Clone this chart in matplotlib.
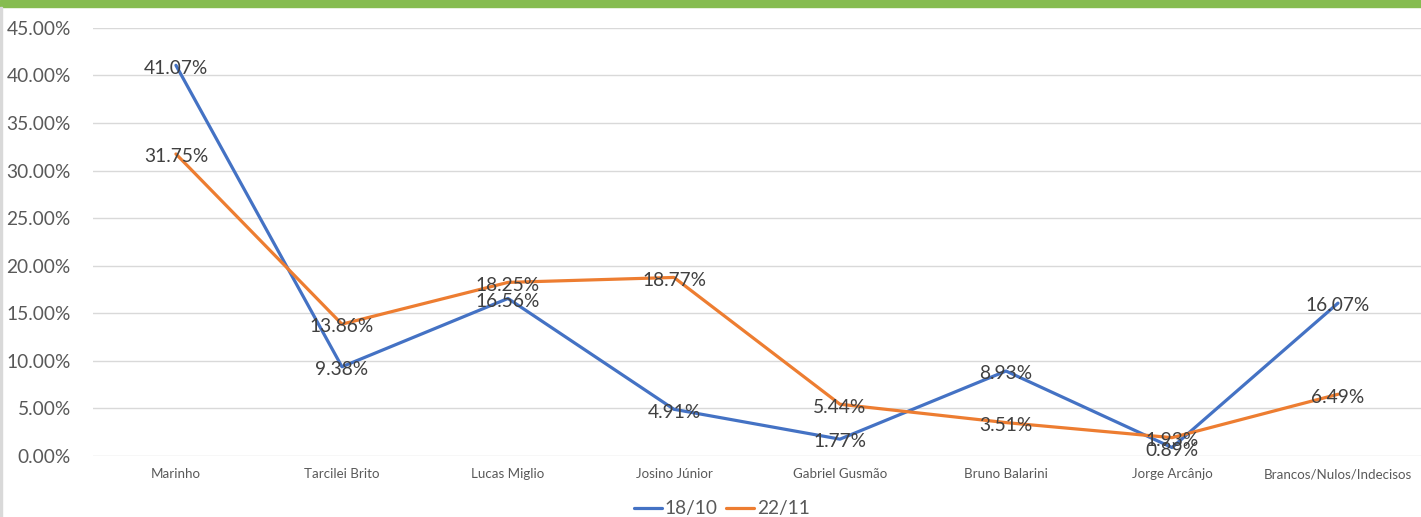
import matplotlib.pyplot as plt
from matplotlib.patches import Rectangle
from matplotlib.ticker import FuncFormatter

plt.rcParams['font.family'] = ['Lato', 'DejaVu Sans']

# dados
candidatos = ['Marinho', 'Tarcilei Brito', 'Lucas Miglio', 'Josino Júnior',
              'Gabriel Gusmão', 'Bruno Balarini', 'Jorge Arcânjo',
              'Brancos/Nulos/Indecisos']
serie_1810 = [41.07, 9.38, 16.56, 4.91, 1.77, 8.93, 0.89, 16.07]
serie_2211 = [31.75, 13.86, 18.25, 18.77, 5.44, 3.51, 1.93, 6.49]
nomes = ['18/10', '22/11']
cores = ['#4472C4', '#ED7D31']

fig = plt.figure(figsize=(14.21, 5.17), dpi=100)
ax = fig.add_axes([0.0654, 0.118, 0.9346, 0.828])

x = range(len(candidatos))
for vals, nome, cor in zip([serie_1810, serie_2211], nomes, cores):
    ax.plot(x, [v / 100 for v in vals], color=cor, lw=2.3, label=nome,
            solid_joinstyle='round', solid_capstyle='round')

for vals in [serie_1810, serie_2211]:
    for i, v in enumerate(vals):
        ax.annotate(f'{v:.2f}%', (i, v / 100), xytext=(0, -2),
                    textcoords='offset points', ha='center', va='center',
                    fontsize=13.8, color='#404040', zorder=5)

ax.set_xlim(-0.5, len(candidatos) - 0.5)
ax.set_ylim(0, 0.45)
ax.set_yticks([i * 0.05 for i in range(10)])
ax.yaxis.set_major_formatter(FuncFormatter(lambda v, p: f'{v * 100:.2f}%'))
ax.set_xticks(list(x))
ax.set_xticklabels(candidatos, fontsize=9.6, color='#595959')
ax.tick_params(axis='y', labelsize=13.8, labelcolor='#595959', length=0, pad=16)
ax.tick_params(axis='x', length=0, pad=9)
ax.grid(axis='y', color='#D9D9D9', lw=1)
ax.set_axisbelow(True)
for s in ax.spines.values():
    s.set_visible(False)

leg = fig.legend(loc='center', bbox_to_anchor=(0.508, 0.016), ncol=2,
                 frameon=False, fontsize=13.8, handlelength=1.45,
                 handletextpad=0.15, columnspacing=0.45)
for t in leg.get_texts():
    t.set_color('#595959')

# faixa verde no topo e borda esquerda
fig.patches.append(Rectangle((0, 1 - 7 / 517), 1, 7 / 517, transform=fig.transFigure,
                             color='#86BC50', zorder=10))
fig.patches.append(Rectangle((0, 0), 2 / 1421, 1 - 7 / 517, transform=fig.transFigure,
                             color='#D9D9D9', zorder=10))

fig.savefig('out.png', dpi=100)
